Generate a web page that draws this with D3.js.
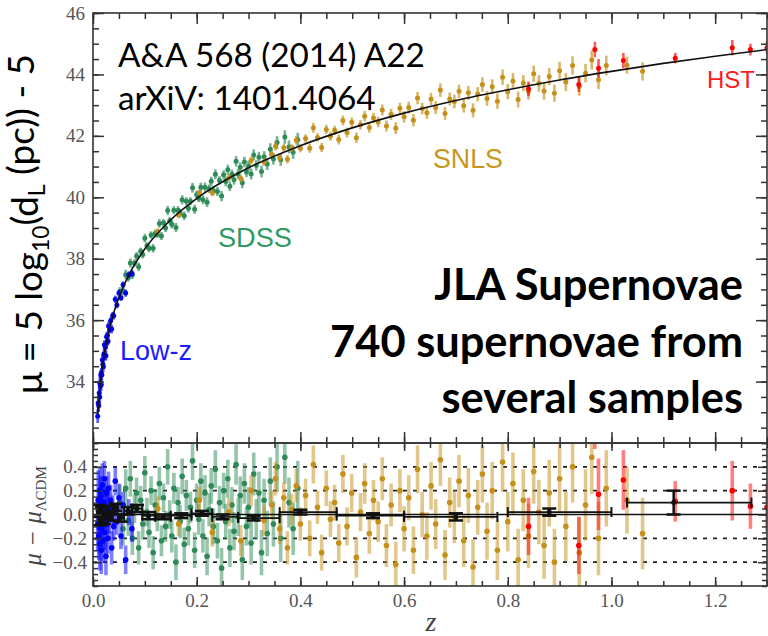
<!DOCTYPE html>
<html>
<head>
<meta charset="utf-8">
<title>JLA Hubble diagram</title>
<style>
	body { margin: 0; background: #fff; }
	svg { display: block; }
	.tick text { font-family: "Liberation Serif", "Times New Roman", serif; font-size: 19px; fill: #555; }
</style>
</head>
<body>
<svg id="chart" width="768" height="636"></svg>
<script src="https://cdn.jsdelivr.net/npm/d3@7"></script>
<script>
// ---- data ----
// Low-z sample
var lowzZ   = [0.009,0.010,0.011,0.012,0.013,0.013,0.014,0.015,0.016,0.016,0.017,0.018,0.019,0.020,0.021,0.022,0.023,0.024,0.025,0.026,0.027,0.028,0.029,0.030,0.032,0.034,0.036,0.038,0.040,0.043,0.046,0.050,0.054,0.058,0.063,0.069,0.075];
var lowzRes = [-0.08,0.12,-0.18,0.05,-0.25,0.20,-0.05,0.15,-0.30,0.08,-0.12,0.25,-0.02,-0.22,0.10,0.30,-0.15,0.02,-0.35,0.18,-0.08,0.06,-0.20,0.22,-0.04,0.12,-0.28,0.04,-0.10,0.28,-0.06,0.14,-0.18,0.08,-0.38,0.02,-0.12];
var lowzErr = [0.22,0.25,0.20,0.18,0.22,0.20,0.19,0.17,0.20,0.16,0.18,0.18,0.15,0.17,0.16,0.15,0.15,0.14,0.16,0.14,0.13,0.14,0.13,0.14,0.12,0.13,0.14,0.12,0.12,0.12,0.11,0.12,0.11,0.11,0.12,0.11,0.11];
var lowzMu  = [32.87,33.30,33.21,33.63,33.50,33.95,33.86,34.21,33.90,34.28,34.21,34.70,34.56,34.48,34.90,35.20,34.85,35.12,34.84,35.46,35.28,35.50,35.31,35.81,35.69,35.98,35.71,36.15,36.14,36.68,36.49,36.88,36.73,37.15,36.88,37.48,37.52];

// SDSS sample
var sdssZ   = [0.052,0.058,0.063,0.068,0.072,0.076,0.080,0.084,0.088,0.092,0.096,0.100,0.104,0.108,0.112,0.116,0.120,0.124,0.128,0.132,0.136,0.140,0.144,0.148,0.152,0.156,0.160,0.164,0.168,0.172,0.176,0.180,0.184,0.188,0.192,0.196,0.200,0.204,0.208,0.212,0.216,0.220,0.224,0.228,0.232,0.236,0.240,0.244,0.248,0.252,0.256,0.260,0.264,0.268,0.272,0.276,0.280,0.284,0.288,0.292,0.296,0.300,0.305,0.310,0.315,0.320,0.325,0.330,0.336,0.342,0.348,0.355,0.362,0.370,0.378,0.386,0.395];
var sdssRes = [0.10,-0.12,0.22,-0.05,0.30,-0.20,0.05,0.18,-0.28,0.12,-0.08,0.35,0.02,-0.15,0.20,-0.32,0.08,-0.02,0.26,-0.22,0.14,-0.10,0.40,0.00,-0.18,0.22,-0.40,0.10,-0.06,0.32,-0.25,0.16,-0.12,0.06,0.45,-0.30,0.12,-0.04,0.28,-0.18,0.18,-0.35,0.04,0.24,-0.10,0.38,-0.22,0.10,-0.45,0.20,-0.06,0.30,-0.28,0.08,-0.14,0.42,-0.02,0.16,-0.38,0.26,-0.10,0.06,-0.24,0.34,-0.04,0.18,-0.32,0.12,-0.16,0.28,-0.08,0.40,-0.20,0.48,0.10,-0.12,0.22];
var sdssErr = [0.15,0.14,0.16,0.13,0.15,0.14,0.12,0.13,0.14,0.12,0.13,0.14,0.12,0.13,0.12,0.14,0.13,0.12,0.14,0.13,0.12,0.13,0.15,0.12,0.14,0.13,0.15,0.13,0.14,0.15,0.14,0.13,0.14,0.13,0.16,0.15,0.14,0.13,0.15,0.14,0.15,0.16,0.14,0.15,0.15,0.16,0.15,0.14,0.17,0.15,0.15,0.16,0.16,0.15,0.16,0.17,0.16,0.16,0.17,0.17,0.16,0.17,0.18,0.18,0.17,0.18,0.19,0.18,0.19,0.20,0.19,0.21,0.20,0.22,0.21,0.22,0.23];
var sdssMu  = [36.93,36.95,37.48,37.38,37.86,37.48,37.86,38.09,37.74,38.24,38.14,38.67,38.42,38.34,38.77,38.34,38.82,38.80,39.15,38.74,39.17,39.00,39.57,39.24,39.12,39.58,39.02,39.58,39.48,39.92,39.40,39.87,39.64,39.87,40.31,39.61,40.08,39.97,40.33,39.92,40.33,39.84,40.28,40.52,40.22,40.75,40.19,40.55,40.04,40.73,40.51,40.90,40.36,40.75,40.57,41.17,40.76,40.98,40.47,41.15,40.82,41.02,40.76,41.38,41.04,41.30,40.84,41.32,41.08,41.56,41.25,41.78,41.22,41.96,41.64,41.47,41.87];

// SNLS sample
var snlsZ   = [0.125,0.165,0.205,0.230,0.262,0.285,0.305,0.330,0.345,0.352,0.360,0.368,0.375,0.383,0.392,0.400,0.410,0.418,0.425,0.433,0.441,0.450,0.458,0.466,0.474,0.482,0.490,0.499,0.508,0.516,0.524,0.533,0.541,0.550,0.558,0.566,0.575,0.584,0.592,0.600,0.609,0.618,0.626,0.635,0.644,0.652,0.661,0.670,0.679,0.688,0.697,0.706,0.715,0.724,0.733,0.742,0.751,0.760,0.770,0.780,0.790,0.800,0.810,0.820,0.830,0.840,0.850,0.860,0.870,0.880,0.890,0.900,0.912,0.925,0.938,0.950,0.962,0.975,0.990,1.030,1.060];
var snlsRes = [0.05,-0.08,0.12,-0.15,0.02,-0.22,0.20,-0.05,0.08,0.30,-0.12,0.14,-0.28,0.04,0.24,-0.08,0.16,-0.20,0.42,0.06,-0.32,0.22,-0.04,0.10,-0.24,0.34,-0.10,0.18,-0.36,0.02,0.26,-0.16,0.12,-0.06,0.30,-0.26,0.08,-0.42,0.20,-0.12,0.14,-0.30,0.38,0.00,-0.18,0.24,-0.08,0.46,-0.34,0.10,-0.02,0.28,-0.22,0.16,-0.44,0.06,0.34,-0.14,0.20,-0.30,0.44,-0.06,0.26,-0.38,0.12,-0.18,0.36,0.02,-0.26,0.18,-0.40,0.30,-0.10,0.40,-0.32,0.08,0.48,-0.20,0.22,0.12,-0.16];
var snlsErr = [0.10,0.10,0.11,0.12,0.12,0.13,0.13,0.13,0.12,0.14,0.13,0.13,0.14,0.13,0.14,0.14,0.14,0.15,0.16,0.14,0.15,0.15,0.15,0.15,0.16,0.16,0.16,0.16,0.17,0.16,0.17,0.17,0.17,0.17,0.18,0.18,0.18,0.19,0.18,0.19,0.19,0.20,0.20,0.19,0.20,0.20,0.21,0.22,0.21,0.21,0.22,0.22,0.22,0.23,0.23,0.23,0.24,0.24,0.24,0.25,0.25,0.25,0.26,0.26,0.26,0.27,0.27,0.27,0.28,0.28,0.28,0.29,0.29,0.30,0.30,0.30,0.31,0.31,0.32,0.28,0.30];
var snlsMu  = [38.89,39.42,40.14,40.15,40.64,40.61,41.20,41.15,41.39,41.66,41.29,41.61,41.24,41.60,41.86,41.60,41.91,41.60,42.26,41.95,41.62,42.21,41.99,42.18,41.88,42.50,42.11,42.44,41.94,42.36,42.64,42.27,42.58,42.45,42.84,42.32,42.70,42.25,42.90,42.62,42.92,42.51,43.23,42.89,42.75,43.20,42.92,43.49,42.73,43.20,43.12,43.45,42.98,43.40,42.83,43.36,43.67,43.22,43.60,43.13,43.91,43.44,43.79,43.18,43.72,43.45,44.02,43.71,43.46,43.93,43.39,44.12,43.75,44.29,43.61,44.04,44.47,43.83,44.29,44.30,44.10];

// HST sample
var hstZ   = [0.840,0.937,0.968,0.975,1.023,1.123,1.233,1.268,1.300];
var hstRes = [-0.10,-0.26,0.80,0.17,0.29,0.11,0.20,0.07,0.06];
var hstErr = [0.24,0.24,0.25,0.30,0.25,0.17,0.25,0.19,0.20];
var hstMu  = [43.53,43.67,44.81,44.20,44.45,44.53,44.87,44.81,44.87];

// binned residuals (black)
var binZ   = [0.010,0.013,0.017,0.021,0.027,0.034,0.043,0.053,0.067,0.085,0.107,0.135,0.170,0.210,0.250,0.310,0.400,0.540,0.700,0.880,1.120];
var binRes = [0.03,-0.05,0.02,-0.04,0.04,-0.02,0.06,-0.03,0.03,0.05,-0.01,-0.02,-0.01,0.01,-0.02,-0.03,0.02,-0.01,-0.02,0.02,0.10];
var binErr = [0.05,0.04,0.04,0.04,0.03,0.03,0.03,0.03,0.03,0.03,0.03,0.02,0.02,0.02,0.02,0.02,0.02,0.02,0.03,0.03,0.10];
var binLo  = [0.008,0.012,0.015,0.019,0.024,0.031,0.038,0.048,0.060,0.075,0.095,0.120,0.150,0.190,0.230,0.280,0.360,0.470,0.600,0.800,1.030];
var binHi  = [0.012,0.015,0.019,0.024,0.031,0.038,0.048,0.060,0.075,0.095,0.120,0.150,0.190,0.230,0.280,0.360,0.470,0.600,0.780,1.000,1.270];

// LCDM model curve
var curveZ  = [0.009,0.010,0.012,0.015,0.020,0.025,0.030,0.040,0.050,0.070,0.100,0.150,0.200,0.300,0.400,0.500,0.600,0.700,0.800,0.900,1.000,1.100,1.200,1.300];
var curveMu = [32.95,33.18,33.58,34.06,34.70,35.19,35.59,36.24,36.74,37.50,38.32,39.27,39.96,40.96,41.68,42.26,42.74,43.15,43.50,43.82,44.10,44.36,44.59,44.81];

// ticks
var xMajor = [0, 0.2, 0.4, 0.6, 0.8, 1.0, 1.2];
var topMajor = [34, 36, 38, 40, 42, 44, 46];
var botMajor = [-0.4, -0.2, 0, 0.2, 0.4];
var botGrid = [-0.4, -0.2, 0.2, 0.4];

// ---- layout ----
var L = 93, R = 767, T = 13, M = 443, B = 586;
var svg = d3.select("#chart");

var x = d3.scaleLinear().domain([0, 1.3]).range([L, R]);
var yTop = d3.scaleLinear().domain([32, 46]).range([M, T]);
var yBot = d3.scaleLinear().domain([-0.6, 0.6]).range([B, M]);

var xMinor = d3.range(0, 27).map(function(i) { return i * 0.05; });
var topMinor = d3.range(0, 29).map(function(i) { return 32 + i * 0.5; });
var botMinor = d3.range(0, 25).map(function(i) { return -0.6 + i * 0.05; });

var defs = svg.append("defs");
defs.append("clipPath").attr("id", "clipTop").append("rect")
	.attr("x", L).attr("y", T).attr("width", R - L).attr("height", M - T);
defs.append("clipPath").attr("id", "clipBot").append("rect")
	.attr("x", L).attr("y", M).attr("width", R - L).attr("height", B - M);

var samples = [
	{z: sdssZ, res: sdssRes, err: sdssErr, mu: sdssMu, color: "#2e8b57"},
	{z: snlsZ, res: snlsRes, err: snlsErr, mu: snlsMu, color: "#c4901a"},
	{z: lowzZ, res: lowzRes, err: lowzErr, mu: lowzMu, color: "#0000ff"},
	{z: hstZ,  res: hstRes,  err: hstErr,  mu: hstMu,  color: "#ff0000"}
];

function drawPoints(layer, s, key, yScale, r, bw, barOp) {
	var idx = d3.range(s.z.length);
	var g = layer.append("g");
	g.selectAll("line").data(idx).join("line")
		.attr("x1", function(i) { return x(s.z[i]); })
		.attr("x2", function(i) { return x(s.z[i]); })
		.attr("y1", function(i) { return yScale(s[key][i] - s.err[i]); })
		.attr("y2", function(i) { return yScale(s[key][i] + s.err[i]); })
		.attr("stroke", s.color).attr("stroke-width", bw).attr("stroke-opacity", barOp);
	g.selectAll("circle").data(idx).join("circle")
		.attr("cx", function(i) { return x(s.z[i]); })
		.attr("cy", function(i) { return yScale(s[key][i]); })
		.attr("r", r).attr("fill", s.color);
}

// top panel
var topLayer = svg.append("g").attr("clip-path", "url(#clipTop)");
samples.forEach(function(s) { drawPoints(topLayer, s, "mu", yTop, 2.5, 2.6, 0.65); });

var line = d3.line()
	.x(function(d, i) { return x(curveZ[i]); })
	.y(function(d, i) { return yTop(curveMu[i]); })
	.curve(d3.curveMonotoneX);
topLayer.append("path").datum(curveZ).attr("d", line)
	.attr("fill", "none").attr("stroke", "#111").attr("stroke-width", 1.6);

// bottom panel
var botLayer = svg.append("g").attr("clip-path", "url(#clipBot)");
botLayer.selectAll("line.grid").data(botGrid).join("line").attr("class", "grid")
	.attr("x1", L).attr("x2", R)
	.attr("y1", function(d) { return yBot(d); }).attr("y2", function(d) { return yBot(d); })
	.attr("stroke", "#222").attr("stroke-width", 1.8).attr("stroke-dasharray", "4,6");

samples.forEach(function(s) { drawPoints(botLayer, s, "res", yBot, 2.8, 3.6, 0.5); });

botLayer.append("line").attr("x1", L).attr("x2", R)
	.attr("y1", yBot(0)).attr("y2", yBot(0)).attr("stroke", "#111").attr("stroke-width", 1.5);

// binned points
var bins = d3.range(binZ.length);
var bg = botLayer.append("g").attr("stroke", "#111");
bg.selectAll("line.h").data(bins).join("line").attr("class", "h")
	.attr("x1", function(i) { return x(binLo[i]); }).attr("x2", function(i) { return x(binHi[i]); })
	.attr("y1", function(i) { return yBot(binRes[i]); }).attr("y2", function(i) { return yBot(binRes[i]); })
	.attr("stroke-width", 1.6);
[binLo, binHi].forEach(function(edge) {
	bg.append("g").selectAll("line").data(bins).join("line")
		.attr("x1", function(i) { return x(edge[i]); }).attr("x2", function(i) { return x(edge[i]); })
		.attr("y1", function(i) { return yBot(binRes[i]) - 5; }).attr("y2", function(i) { return yBot(binRes[i]) + 5; })
		.attr("stroke-width", 2);
});
bg.selectAll("line.v").data(bins).join("line").attr("class", "v")
	.attr("x1", function(i) { return x(binZ[i]); }).attr("x2", function(i) { return x(binZ[i]); })
	.attr("y1", function(i) { return yBot(binRes[i] - binErr[i]); })
	.attr("y2", function(i) { return yBot(binRes[i] + binErr[i]); })
	.attr("stroke-width", 2.5);
[-1, 1].forEach(function(sg) {
	bg.append("g").selectAll("line").data(bins).join("line")
		.attr("x1", function(i) { return x(binZ[i]) - 7; }).attr("x2", function(i) { return x(binZ[i]) + 7; })
		.attr("y1", function(i) { return yBot(binRes[i] + sg * binErr[i]); })
		.attr("y2", function(i) { return yBot(binRes[i] + sg * binErr[i]); })
		.attr("stroke-width", 2.5);
});
bg.selectAll("circle").data(bins).join("circle")
	.attr("cx", function(i) { return x(binZ[i]); }).attr("cy", function(i) { return yBot(binRes[i]); })
	.attr("r", 2.5).attr("fill", "#111").attr("stroke", "none");

// ---- frames and ticks ----
function tickAxis(gen, tx, ty, vals, size) {
	svg.append("g").attr("transform", "translate(" + tx + "," + ty + ")")
		.call(gen.tickValues(vals).tickSize(size).tickFormat(""))
		.call(function(g) { g.select(".domain").remove(); })
		.selectAll("line").attr("stroke", "#333").attr("stroke-width", 1.5);
}
function labelAxis(gen, tx, ty, vals, fmt, pad) {
	svg.append("g").attr("transform", "translate(" + tx + "," + ty + ")")
		.call(gen.tickValues(vals).tickSize(0).tickPadding(pad).tickFormat(fmt))
		.call(function(g) { g.select(".domain").remove(); });
}

// top panel
tickAxis(d3.axisLeft(yTop), L, 0, topMajor, -11);
tickAxis(d3.axisLeft(yTop), L, 0, topMinor, -6);
tickAxis(d3.axisRight(yTop), R, 0, topMajor, -11);
tickAxis(d3.axisRight(yTop), R, 0, topMinor, -6);
tickAxis(d3.axisTop(x), 0, T, xMajor, -11);
tickAxis(d3.axisTop(x), 0, T, xMinor, -6);
tickAxis(d3.axisBottom(x), 0, M, xMajor, -11);
tickAxis(d3.axisBottom(x), 0, M, xMinor, -6);
// bottom panel
tickAxis(d3.axisTop(x), 0, M, xMajor, -8);
tickAxis(d3.axisTop(x), 0, M, xMinor, -5);
tickAxis(d3.axisBottom(x), 0, B, xMajor, -9);
tickAxis(d3.axisBottom(x), 0, B, xMinor, -5);
tickAxis(d3.axisLeft(yBot), L, 0, botMajor, -9);
tickAxis(d3.axisLeft(yBot), L, 0, botMinor, -5);
tickAxis(d3.axisRight(yBot), R, 0, botMajor, -9);
tickAxis(d3.axisRight(yBot), R, 0, botMinor, -5);

labelAxis(d3.axisLeft(yTop), L, 0, topMajor, d3.format("d"), 8);
labelAxis(d3.axisLeft(yBot), L, 0, botMajor, d3.format(".1f"), 6);
labelAxis(d3.axisBottom(x), 0, B, xMajor, d3.format(".1f"), 8);

svg.append("rect").attr("x", L).attr("y", T).attr("width", R - L).attr("height", M - T)
	.attr("fill", "none").attr("stroke", "#333").attr("stroke-width", 1.6);
svg.append("rect").attr("x", L).attr("y", M).attr("width", R - L).attr("height", B - M)
	.attr("fill", "none").attr("stroke", "#333").attr("stroke-width", 1.6);

// ---- texts ----
function fitWidth(sel, w) {
	var cur = sel.node().getComputedTextLength();
	var fs = +sel.attr("font-size") * w / cur;
	sel.attr("font-size", fs);
	return fs;
}

svg.append("text").attr("x", 431).attr("y", 631)
	.attr("font-family", "'Liberation Serif', serif").attr("font-style", "italic")
	.attr("font-size", 28).attr("fill", "#444").attr("text-anchor", "middle").text("z");

var by = svg.append("text").attr("transform", "translate(41,516) rotate(-90)")
	.attr("text-anchor", "middle").attr("font-family", "'Liberation Serif', serif")
	.attr("font-size", 25).attr("fill", "#444");
by.append("tspan").attr("font-style", "italic").text("μ − μ");
by.append("tspan").attr("font-size", 15).attr("dy", 5).text("ΛCDM");

var ty = svg.append("text").attr("transform", "translate(42,224) rotate(-90)")
	.attr("text-anchor", "middle").attr("font-family", "Lato, 'Open Sans', sans-serif")
	.attr("font-size", 34).attr("fill", "#000");
ty.append("tspan").text("μ = 5 log");
ty.append("tspan").style("font-size", "62%").attr("dy", "0.3em").text("10");
ty.append("tspan").attr("dy", "-0.3em").text("(d");
ty.append("tspan").style("font-size", "62%").attr("dy", "0.3em").text("L");
ty.append("tspan").attr("dy", "-0.3em").text(" (pc)) - 5");
fitWidth(ty, 340);

var ref1 = svg.append("text").attr("x", 118).attr("y", 67)
	.attr("font-family", "Lato, 'Open Sans', sans-serif").attr("font-size", 34).text("A&A 568 (2014) A22");
var fsRef = fitWidth(ref1, 307);
svg.append("text").attr("x", 118).attr("y", 110)
	.attr("font-family", "Lato, 'Open Sans', sans-serif").attr("font-size", fsRef).text("arXiV: 1401.4064");

var titleLines = ["JLA Supernovae", "740 supernovae from", "several samples"];
var titleY = [300, 357, 413];
var t2 = svg.append("text").attr("x", 743).attr("y", titleY[1]).attr("text-anchor", "end")
	.attr("font-family", "Lato, 'Open Sans', sans-serif").attr("font-weight", "bold")
	.attr("font-size", 40).text(titleLines[1]);
var fsTitle = fitWidth(t2, 413);
[0, 2].forEach(function(i) {
	svg.append("text").attr("x", 743).attr("y", titleY[i]).attr("text-anchor", "end")
		.attr("font-family", "Lato, 'Open Sans', sans-serif").attr("font-weight", "bold")
		.attr("font-size", fsTitle).text(titleLines[i]);
});

var sampleLabels = [
	{text: "SDSS", x: 218, y: 247, w: 74, color: "#2e9a62"},
	{text: "SNLS", x: 433, y: 168, w: 70, color: "#c8961e"},
	{text: "Low-z", x: 120, y: 360, w: 72, color: "#1a1aff"},
	{text: "HST", x: 707, y: 88, w: 48, color: "#ff1a1a"}
];
sampleLabels.forEach(function(d) {
	var t = svg.append("text").attr("x", d.x).attr("y", d.y)
		.attr("font-family", "'Liberation Sans', Arial, sans-serif").attr("font-size", 26)
		.attr("fill", d.color).text(d.text);
	fitWidth(t, d.w);
});
</script>
</body>
</html>
